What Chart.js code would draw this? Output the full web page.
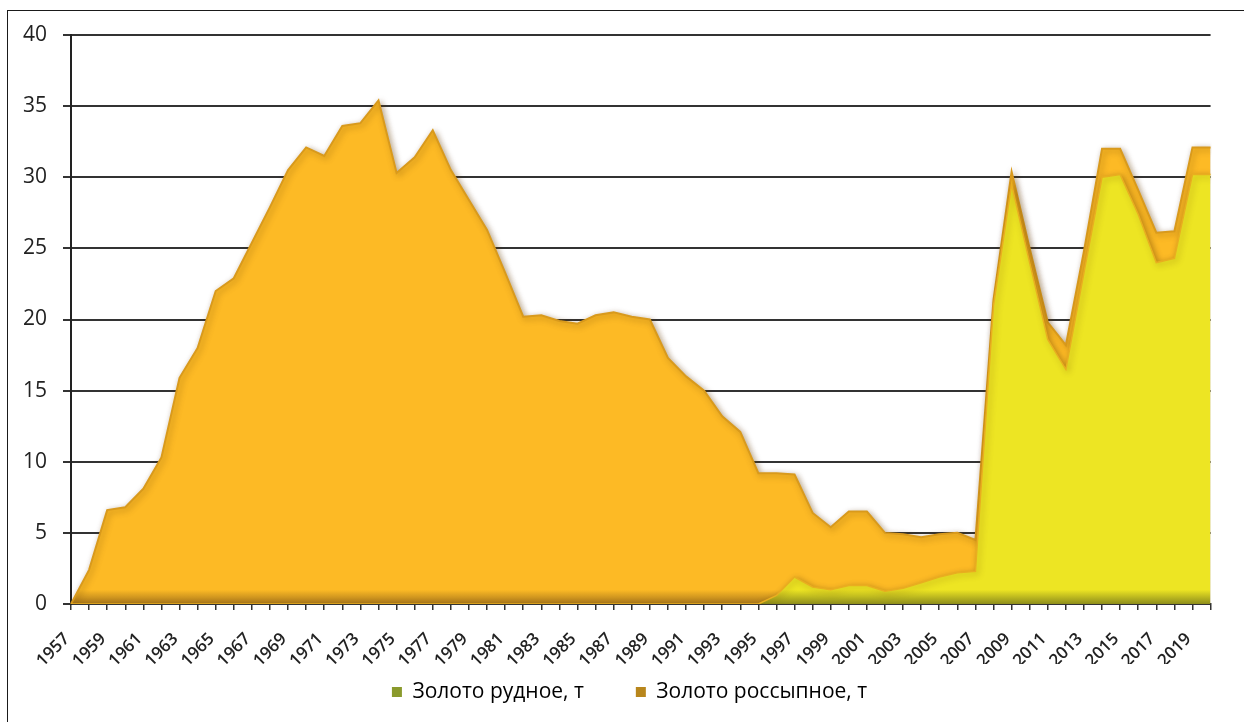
<!DOCTYPE html>
<html>
<head>
<meta charset="utf-8">
<script src="https://cdn.jsdelivr.net/npm/chart.js@4"></script>
<style>
  html, body { margin: 0; padding: 0; background: #fff; overflow: hidden; }
  #wrap { position: relative; width: 1244px; height: 722px; }
  #frame { position: absolute; left: 7px; top: 10px; width: 1300px; height: 800px;
           border: 1px solid #1a1a1a; box-sizing: border-box; }
  #c { position: absolute; left: 0; top: 0; }
</style>
</head>
<body>
<div id="wrap">
  <div id="frame"></div>
  <canvas id="c" width="1244" height="722"></canvas>
</div>
<script>
// Годы добычи
const years = [
  1957, 1958, 1959, 1960, 1961, 1962, 1963, 1964, 1965, 1966,
  1967, 1968, 1969, 1970, 1971, 1972, 1973, 1974, 1975, 1976,
  1977, 1978, 1979, 1980, 1981, 1982, 1983, 1984, 1985, 1986,
  1987, 1988, 1989, 1990, 1991, 1992, 1993, 1994, 1995, 1996,
  1997, 1998, 1999, 2000, 2001, 2002, 2003, 2004, 2005, 2006,
  2007, 2008, 2009, 2010, 2011, 2012, 2013, 2014, 2015, 2016,
  2017, 2018, 2019, 2020
];

// Золото рудное, т
const oreGold = [
  0, 0, 0, 0, 0, 0, 0, 0, 0, 0,
  0, 0, 0, 0, 0, 0, 0, 0, 0, 0,
  0, 0, 0, 0, 0, 0, 0, 0, 0, 0,
  0, 0, 0, 0, 0, 0, 0, 0, 0, 0.6,
  1.9, 1.2, 1.0, 1.3, 1.3, 0.9, 1.1, 1.5, 1.9, 2.2,
  2.3, 21.0, 29.5, 24.0, 18.6, 16.5, 23.3, 30.0, 30.2, 27.4,
  24.0, 24.3, 30.2, 30.2
];

// Золото россыпное, т
const placerGold = [
  0, 2.4, 6.6, 6.8, 8.1, 10.3, 15.9, 18.0, 22.0, 22.9,
  25.4, 27.9, 30.5, 32.1, 31.5, 33.6, 33.8, 35.4, 30.3, 31.4,
  33.3, 30.5, 28.4, 26.3, 23.3, 20.2, 20.3, 19.9, 19.7, 20.3,
  20.5, 20.2, 20.0, 17.3, 16.0, 15.0, 13.2, 12.1, 9.2, 8.6,
  7.2, 5.2, 4.4, 5.2, 5.2, 4.1, 3.8, 3.2, 3.0, 2.8,
  2.2, 0.4, 0.9, 1.0, 1.2, 1.7, 1.5, 2.0, 1.8, 1.7,
  2.1, 1.9, 1.9, 1.9
];

// Значения оси Y
const yTicks = [0, 5, 10, 15, 20, 25, 30, 35, 40];

const seriesNames = ['Золото рудное, т', 'Золото россыпное, т'];

const FONT = '"Open Sans", "Noto Sans", sans-serif';
const ORE_TOP = '#EDE523', ORE_BASE = '#8E8E1C';
const PLACER_TOP = '#FDBA25', PLACER_BASE = '#A8761A';
const legendSwatches = ['#8A9A2C', '#B8861C'];

const LEGEND_FONT = 21;
const LEGEND_GAP = 52;

// вертикальный градиент с затемнённым основанием (имитация объёма)
function areaFill(top, base) {
  return (ctx) => {
    const chart = ctx.chart;
    const a = chart.chartArea;
    if (!a) return top;
    const g = chart.ctx.createLinearGradient(0, a.top, 0, a.bottom);
    g.addColorStop(0, top);
    g.addColorStop(0.975, top);
    g.addColorStop(1, base);
    return g;
  };
}

// мягкая тень под областями
const areaShadow = {
  id: 'areaShadow',
  beforeDatasetsDraw(chart) {
    const c = chart.ctx;
    c.save();
    c.shadowColor = 'rgba(100, 60, 0, 0.45)';
    c.shadowBlur = 6;
    c.shadowOffsetX = 2;
    c.shadowOffsetY = 2;
  },
  afterDatasetsDraw(chart) {
    chart.ctx.restore();
  }
};

// положение строки легенды под осью X
const legendPlacement = {
  id: 'legendPlacement',
  afterLayout(chart) {
    const lg = chart.legend;
    if (!lg) return;
    lg.left += 40;
    lg.top = 692 - LEGEND_GAP - LEGEND_FONT / 2;
  }
};

new Chart(document.getElementById('c'), {
  type: 'line',
  data: {
    labels: years,
    datasets: [
      {
        label: seriesNames[0],
        data: oreGold,
        fill: 'origin',
        backgroundColor: areaFill(ORE_TOP, ORE_BASE),
        borderColor: '#E9AE1F',
        borderWidth: 1.5,
        pointRadius: 0,
        tension: 0
      },
      {
        label: seriesNames[1],
        data: placerGold,
        fill: '-1',
        backgroundColor: areaFill(PLACER_TOP, PLACER_BASE),
        borderColor: '#D99A1C',
        borderWidth: 2,
        pointRadius: 0,
        tension: 0
      }
    ]
  },
  options: {
    responsive: false,
    animation: false,
    layout: { padding: { left: 7, right: 32, top: 35, bottom: 10 } },
    plugins: {
      tooltip: { enabled: false },
      legend: {
        position: 'bottom',
        maxHeight: 48,
        labels: {
          boxWidth: 10,
          boxHeight: 10,
          padding: LEGEND_GAP,
          color: '#222',
          font: { family: FONT, size: LEGEND_FONT },
          generateLabels: (chart) => chart.data.datasets.map((ds, i) => ({
            text: ds.label,
            fillStyle: legendSwatches[i],
            strokeStyle: legendSwatches[i],
            lineWidth: 0,
            hidden: false,
            datasetIndex: i
          }))
        }
      }
    },
    scales: {
      x: {
        grid: { drawOnChartArea: false, drawTicks: true, tickLength: 6, color: '#333', lineWidth: 1.5 },
        border: { display: true, color: '#333', width: 2 },
        ticks: {
          autoSkip: false,
          minRotation: 45,
          maxRotation: 45,
          padding: 19,
          labelOffset: -4,
          color: '#222',
          font: { family: FONT, size: 17, weight: '600' },
          callback: (v, i) => (i % 2 === 0 ? String(years[i]) : '')
        },
        afterFit: (s) => { s.height = 60; }
      },
      y: {
        stacked: true,
        min: yTicks[0],
        max: yTicks[yTicks.length - 1],
        afterBuildTicks: (s) => { s.ticks = yTicks.map(v => ({ value: v })); },
        grid: { color: '#333', lineWidth: 2, tickLength: 8 },
        border: { display: true, color: '#222', width: 2 },
        ticks: { padding: 16, color: '#222', font: { family: FONT, size: 21 } },
        afterFit: (s) => { s.width = 64; }
      }
    }
  },
  plugins: [areaShadow, legendPlacement]
});
</script>
</body>
</html>
